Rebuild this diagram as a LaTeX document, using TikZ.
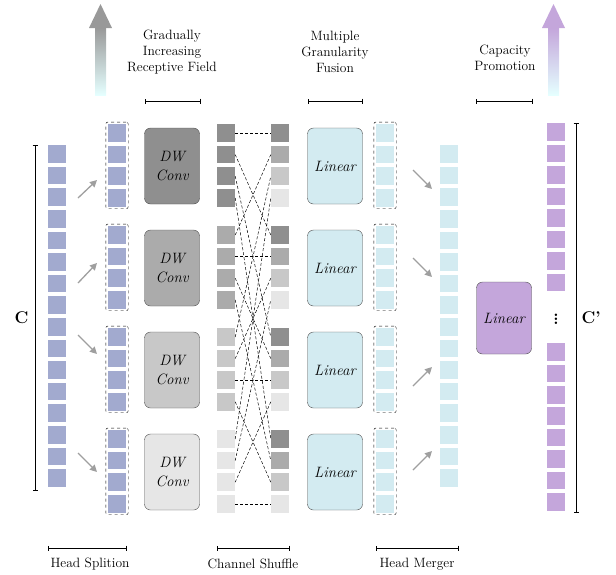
\documentclass[tikz,border=0pt]{standalone}
\usetikzlibrary{arrows.meta,fit}
\begin{document}
\begin{tikzpicture}[x=1pt,y=-1pt,font=\fontsize{13.5}{16}\selectfont]
\definecolor{cblue}{HTML}{A2AACF}
\definecolor{ccyan}{HTML}{D3EBF1}
\definecolor{cpurp}{HTML}{C4A6DB}
\definecolor{gA}{HTML}{8F8F8F}
\definecolor{gB}{HTML}{ABABAB}
\definecolor{gC}{HTML}{C8C8C8}
\definecolor{gD}{HTML}{E6E6E6}
\tikzset{cell/.style={minimum width=18pt,minimum height=17.5pt,inner sep=0pt,draw=none},
  blk/.style={rounded corners=6pt,draw=black!70,minimum width=55pt,minimum height=76pt,inner sep=0pt,font=\fontsize{15}{19}\selectfont\itshape},
  grp/.style={dashed,draw=black,rounded corners=2pt,inner sep=2pt},
  gar/.style={-{Triangle[width=7pt,length=7pt]},draw=gray!75,line width=1.3pt},
  brk/.style={|-|,line width=0.5pt},
  big/.style={font=\bfseries\fontsize{17}{20}\selectfont}}
\useasboundingbox (0,0) rectangle (616,574);
% top arrows
\shade[top color=gray!80,bottom color=cyan!10] (95,28) rectangle (106,95);
\fill[gray!80] (89,28) -- (100.5,4) -- (112,28) -- cycle;
\shade[top color=cpurp,bottom color=cyan!10] (548,28) rectangle (559,95);
\fill[cpurp] (542,28) -- (553.5,4) -- (565,28) -- cycle;
% top labels
\node[align=center] (t1) at (172,52) {Gradually\\Increasing\\Receptive Field};
\node[align=center] (t2) at (335,52) {Multiple\\Granularity\\Fusion};
\node[align=center] (t3) at (505,58) {Capacity\\Promotion};
\draw[brk] (145,101) -- (200,101);
\draw[brk] (308,101) -- (362,101);
\draw[brk] (476,101) -- (532,101);
% left column
\foreach \i in {0,...,15} \node[cell,fill=cblue] (L\i) at (57,{154+21.6*\i}) {};
\draw[brk] (35,145) -- node[left=3pt,big] (cC) {C} (35,490);
% groups
\foreach \g/\col in {0/gA,1/gB,2/gC,3/gD} {
  \foreach \c in {0,...,3} {
    \node[cell,fill=cblue] (S\g\c) at (117,{133+102*\g+21.6*\c}) {};
    \node[cell,fill=\col] (A\g\c) at (226,{133+102*\g+21.6*\c}) {};
    \node[cell,fill=ccyan] (M\g\c) at (385,{133+102*\g+21.6*\c}) {};
  }
  \node[grp,fit=(S\g0)(S\g3)] (SG\g) {};
  \node[grp,fit=(M\g0)(M\g3)] (MG\g) {};
  \node[blk,fill=\col,align=center] (D\g) at (172,{166+102*\g}) {DW\\Conv};
  \node[blk,fill=ccyan] (F\g) at (335,{166+102*\g}) {Linear};
}
\foreach \c/\col in {0/gA,1/gB,2/gC,3/gD}
  \foreach \g in {0,...,3}
    \node[cell,fill=\col] (B\g\c) at (280,{133+102*\g+21.6*\c}) {};
\foreach \g in {0,...,3}
  \foreach \c in {0,...,3}
    \draw[densely dashed,line width=0.5pt] (A\g\c.east) -- (B\c\g.west);
% merge column
\foreach \i in {0,...,15} \node[cell,fill=ccyan] (R\i) at (449,{154+21.6*\i}) {};
\node[blk,fill=cpurp,minimum height=72pt] (P) at (504,318) {Linear};
% output column
\foreach \i in {0,...,7} \node[cell,fill=cpurp] (O\i) at (556,{132+21.5*\i}) {};
\foreach \i in {8,...,15} \node[cell,fill=cpurp] (O\i) at (556,{352+21.4*(\i-8)}) {};
\node[big] (dots) at (556,316) {$\vdots$};
\draw[brk] (576,123) -- node[right=2pt,big] (cC2) {C'} (576,512);
% gray arrows
\coordinate (a0) at (78,198); \coordinate (b0) at (97,180);
\coordinate (a1) at (78,283); \coordinate (b1) at (97,263);
\coordinate (a2) at (78,335); \coordinate (b2) at (97,354);
\coordinate (a3) at (78,453); \coordinate (b3) at (97,472);
\coordinate (c0) at (413,170); \coordinate (d0) at (432,189);
\coordinate (c1) at (413,258); \coordinate (d1) at (432,277);
\coordinate (c2) at (413,386); \coordinate (d2) at (432,367);
\coordinate (c3) at (413,470); \coordinate (d3) at (432,451);
\foreach \k in {0,...,3} {\draw[gar] (a\k) -- (b\k); \draw[gar] (c\k) -- (d\k);}
% bottom labels
\draw[brk] (48,548) -- (126,548);
\draw[brk] (217,548) -- (289,548);
\draw[brk] (376,548) -- (458,548);
\node (h1) at (90,564) {Head Splition};
\node (h2) at (253,564) {Channel Shuffle};
\node (h3) at (417,564) {Head Merger};
\end{tikzpicture}
\end{document}
